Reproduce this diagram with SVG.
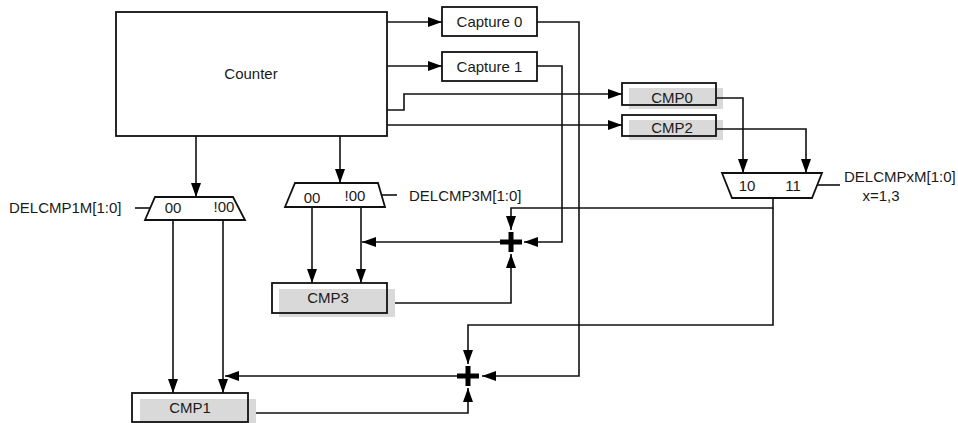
<svg xmlns="http://www.w3.org/2000/svg" width="958" height="423" viewBox="0 0 958 423">
<style>
  .box{fill:none;stroke:#111;stroke-width:1.8}
  .wbox{fill:#fff;stroke:#111;stroke-width:1.8}
  .sh{fill:#d9d9d9}
  .ln{fill:none;stroke:#111;stroke-width:1.6}
  .t{font-family:"Liberation Sans",Arial,sans-serif;font-size:15px;fill:#1a1a1a}
  .c{text-anchor:middle}
  .plus{fill:#000}
</style>
<defs>
  <marker id="ah" viewBox="0 0 14 10" refX="14" refY="5" markerWidth="14" markerHeight="10" markerUnits="userSpaceOnUse" orient="auto">
    <path d="M0,0 L14,5 L0,10 z" fill="#000"/>
  </marker>
</defs>
<rect width="958" height="423" fill="#fff"/>

<g id="counter">
  <rect class="wbox" x="116" y="12" width="271" height="124"/>
  <text class="t c" x="251" y="79">Counter</text>
</g>
<g id="capture0">
  <rect class="wbox" x="442" y="7" width="95" height="29"/>
  <text class="t c" x="489.5" y="27">Capture 0</text>
</g>
<g id="capture1">
  <rect class="wbox" x="442" y="52" width="95" height="29"/>
  <text class="t c" x="489.5" y="72">Capture 1</text>
</g>
<g id="cmp0">
  <rect class="sh" x="629" y="88" width="94" height="21"/>
  <rect class="box" x="622" y="83" width="94" height="22"/>
  <text class="t c" x="672" y="103">CMP0</text>
</g>
<g id="cmp2">
  <rect class="sh" x="629" y="120" width="94" height="20"/>
  <rect class="box" x="622" y="115" width="94" height="21"/>
  <text class="t c" x="672" y="133">CMP2</text>
</g>
<g id="cmp3">
  <rect class="sh" x="279" y="289" width="116" height="28"/>
  <rect class="box" x="272" y="283" width="115" height="30"/>
  <text class="t c" x="328" y="303">CMP3</text>
</g>
<g id="cmp1">
  <rect class="sh" x="140" y="399" width="116" height="28"/>
  <rect class="box" x="132" y="393" width="116" height="29"/>
  <text class="t c" x="190" y="413">CMP1</text>
</g>
<g id="mux1">
  <polygon class="wbox" points="155,197 233,197 245,220 145,220"/>
  <text class="t c" x="173" y="213">00</text>
  <text class="t c" x="224" y="212">!00</text>
  <text class="t" x="9" y="213">DELCMP1M[1:0]</text>
</g>
<g id="mux3">
  <polygon class="wbox" points="295,183 378,183 385,207 285,207"/>
  <text class="t c" x="312" y="203">00</text>
  <text class="t c" x="355" y="201">!00</text>
  <text class="t" x="409" y="201">DELCMP3M[1:0]</text>
</g>
<g id="muxx">
  <polygon class="wbox" points="722,173 822,173 812,198 732,198"/>
  <text class="t c" x="747" y="191">10</text>
  <text class="t c" x="793" y="191">11</text>
  <text class="t" x="844" y="182">DELCMPxM[1:0]</text>
  <text class="t c" x="881" y="201">x=1,3</text>
</g>
<g id="sum1">
  <rect class="plus" x="500" y="239.5" width="22" height="5"/>
  <rect class="plus" x="508.5" y="232" width="5" height="20"/>
</g>
<g id="sum2">
  <rect class="plus" x="457" y="373.5" width="22" height="5"/>
  <rect class="plus" x="465.5" y="366" width="5" height="20"/>
</g>

<g id="connectors">
  <path class="ln" d="M387,22 H442" marker-end="url(#ah)"/>
  <path class="ln" d="M387,66 H442" marker-end="url(#ah)"/>
  <path class="ln" d="M387,110 H404 V94 H622" marker-end="url(#ah)"/>
  <path class="ln" d="M387,125 H622" marker-end="url(#ah)"/>
  <path class="ln" d="M196,136 V197" marker-end="url(#ah)"/>
  <path class="ln" d="M340,136 V183" marker-end="url(#ah)"/>
  <path class="ln" d="M537,22 H579 V376 H482" marker-end="url(#ah)"/>
  <path class="ln" d="M537,66 H562 V242 H524" marker-end="url(#ah)"/>
  <path class="ln" d="M717,98 H743 V173" marker-end="url(#ah)"/>
  <path class="ln" d="M717,129 H806 V173" marker-end="url(#ah)"/>
  <path class="ln" d="M773,198 V208 H511 V230" marker-end="url(#ah)"/>
  <path class="ln" d="M773,208 V325 H468 V364" marker-end="url(#ah)"/>
  <path class="ln" d="M500,242 H362" marker-end="url(#ah)"/>
  <path class="ln" d="M312,207 V283" marker-end="url(#ah)"/>
  <path class="ln" d="M361,207 V283" marker-end="url(#ah)"/>
  <path class="ln" d="M395,303 H511 V254" marker-end="url(#ah)"/>
  <path class="ln" d="M173,220 V393" marker-end="url(#ah)"/>
  <path class="ln" d="M223,220 V393" marker-end="url(#ah)"/>
  <path class="ln" d="M457,376 H225" marker-end="url(#ah)"/>
  <path class="ln" d="M256,413 H468 V388" marker-end="url(#ah)"/>
  <path class="ln" d="M135,208 H150"/>
  <path class="ln" d="M382,195 H397"/>
  <path class="ln" d="M817,185 H840"/>
</g>
</svg>
